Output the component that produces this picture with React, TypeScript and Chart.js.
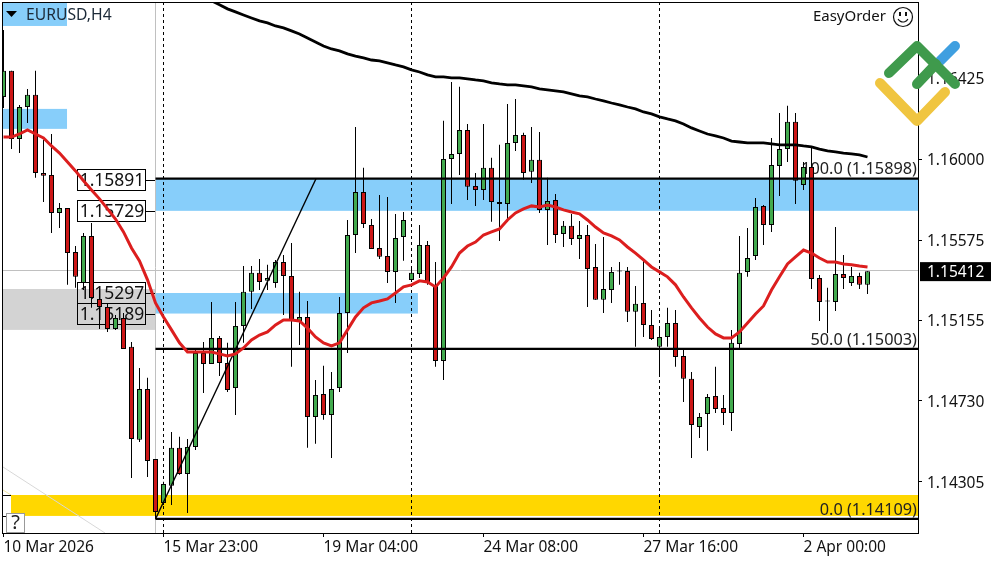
import { useEffect, useRef } from 'react'
import { Chart, registerables } from 'chart.js'
Chart.register(...registerables)

const opens = [1.16328,1.16465,1.16107,1.16275,1.16339,1.15928,1.15918,1.15718,1.15744,1.15512,1.15350,1.15597,1.15266,1.15224,1.15108,1.15166,1.15014,1.14525,1.14792,1.14424,1.14193,1.14283,1.14483,1.14346,1.14488,1.14982,1.14924,1.15061,1.14929,1.14797,1.15124,1.15303,1.15403,1.15361,1.15350,1.15460,1.15387,1.15150,1.15171,1.14645,1.14766,1.14656,1.14797,1.15192,1.15602,1.15828,1.15655,1.15534,1.15492,1.15408,1.15592,1.15366,1.15397,1.15550,1.15340,1.14940,1.16002,1.16028,1.16154,1.15860,1.15839,1.15955,1.15775,1.15765,1.16086,1.16128,1.15934,1.15997,1.15734,1.15786,1.15607,1.15650,1.15581,1.15602,1.15434,1.15261,1.15313,1.15415,1.15413,1.15198,1.15245,1.15129,1.15014,1.15066,1.15139,1.14966,1.14846,1.14593,1.14661,1.14756,1.14692,1.14666,1.15029,1.15408,1.15492,1.15755,1.15655,1.15965,1.16054,1.16197,1.15865,1.15960,1.15376,1.15258,1.15250,1.15397,1.15350,1.15387,1.15340]
const highs = [1.16680,1.16465,1.16286,1.16370,1.16465,1.16102,1.16133,1.15770,1.15744,1.15544,1.15613,1.15665,1.15313,1.15245,1.15182,1.15192,1.15040,1.14903,1.14851,1.14424,1.14304,1.14566,1.14541,1.14530,1.15008,1.15040,1.15250,1.15071,1.15035,1.15250,1.15439,1.15439,1.15476,1.15445,1.15471,1.15497,1.15560,1.15303,1.15255,1.14840,1.14914,1.14882,1.15276,1.15681,1.16170,1.15955,1.15686,1.15812,1.15802,1.15713,1.15723,1.15439,1.15655,1.15571,1.15460,1.16202,1.16407,1.16381,1.16186,1.15928,1.16186,1.16008,1.16076,1.16291,1.16317,1.16139,1.16170,1.16144,1.15903,1.15818,1.15676,1.15713,1.15676,1.15655,1.15555,1.15592,1.15434,1.15460,1.15434,1.15334,1.15471,1.15208,1.15124,1.15219,1.15208,1.14998,1.14882,1.14666,1.14766,1.14909,1.14761,1.15103,1.15597,1.15639,1.15797,1.15760,1.16112,1.16244,1.16281,1.16244,1.15986,1.16065,1.15392,1.15324,1.15644,1.15497,1.15434,1.15403,1.15412]
const lows = [1.16270,1.16054,1.16033,1.16191,1.15903,1.15775,1.15613,1.15639,1.15340,1.15324,1.15313,1.15219,1.15108,1.15092,1.15103,1.15003,1.14325,1.14514,1.14330,1.14109,1.14183,1.14183,1.14341,1.14141,1.14472,1.14771,1.14924,1.14861,1.14777,1.14656,1.15035,1.15213,1.15313,1.15313,1.15324,1.15182,1.14909,1.15024,1.14483,1.14504,1.14630,1.14430,1.14777,1.14982,1.15507,1.15639,1.15529,1.15476,1.15350,1.15245,1.15466,1.15355,1.15376,1.15340,1.14909,1.14840,1.15765,1.15918,1.15786,1.15755,1.15786,1.15671,1.15571,1.15681,1.16044,1.15892,1.15876,1.15718,1.15550,1.15560,1.15539,1.15550,1.15476,1.15224,1.15261,1.15192,1.15245,1.15340,1.15145,1.15014,1.15066,1.15050,1.14861,1.15014,1.14909,1.14724,1.14430,1.14535,1.14467,1.14666,1.14603,1.14572,1.15008,1.15382,1.15471,1.15550,1.15618,1.15807,1.15986,1.15765,1.15839,1.15318,1.15150,1.15087,1.15203,1.15318,1.15334,1.15318,1.15292]
const closes = [1.16465,1.16107,1.16275,1.16339,1.15928,1.15913,1.15718,1.15744,1.15507,1.15382,1.15597,1.15271,1.15224,1.15108,1.15166,1.15003,1.14530,1.14792,1.14414,1.14146,1.14293,1.14483,1.14346,1.14488,1.14982,1.14924,1.15061,1.14929,1.14787,1.15124,1.15303,1.15403,1.15355,1.15376,1.15460,1.15387,1.15150,1.15171,1.14645,1.14761,1.14656,1.14792,1.15192,1.15602,1.15828,1.15660,1.15529,1.15487,1.15408,1.15586,1.15681,1.15403,1.15550,1.15350,1.14940,1.16002,1.16028,1.16154,1.15855,1.15839,1.15955,1.15775,1.15765,1.16086,1.16128,1.15928,1.15997,1.15734,1.15781,1.15602,1.15650,1.15581,1.15602,1.15423,1.15261,1.15318,1.15408,1.15410,1.15198,1.15240,1.15129,1.15055,1.15066,1.15139,1.14961,1.14846,1.14603,1.14645,1.14750,1.14687,1.14666,1.15035,1.15403,1.15481,1.15749,1.15655,1.15970,1.16054,1.16197,1.15887,1.15960,1.15371,1.15250,1.15252,1.15397,1.15376,1.15387,1.15340,1.15412]

// moving averages, one value per bar
const maFast = [1.16117,1.16117,1.16133,1.16154,1.16133,1.16112,1.16070,1.16033,1.15986,1.15939,1.15887,1.15839,1.15792,1.15739,1.15686,1.15618,1.15534,1.15466,1.15366,1.15245,1.15171,1.15103,1.15035,1.14987,1.14987,1.14987,1.14987,1.14977,1.14966,1.14977,1.15008,1.15050,1.15076,1.15092,1.15129,1.15155,1.15155,1.15150,1.15113,1.15066,1.15035,1.15019,1.15035,1.15103,1.15171,1.15219,1.15245,1.15255,1.15266,1.15297,1.15329,1.15340,1.15361,1.15355,1.15329,1.15376,1.15434,1.15507,1.15544,1.15565,1.15602,1.15618,1.15634,1.15681,1.15718,1.15739,1.15755,1.15749,1.15760,1.15749,1.15734,1.15723,1.15713,1.15681,1.15644,1.15613,1.15597,1.15576,1.15539,1.15507,1.15471,1.15434,1.15408,1.15382,1.15340,1.15276,1.15219,1.15166,1.15118,1.15082,1.15061,1.15061,1.15092,1.15139,1.15187,1.15229,1.15313,1.15382,1.15450,1.15487,1.15523,1.15507,1.15481,1.15460,1.15460,1.15450,1.15445,1.15439,1.15434]
const maSlowStart = 26
const maSlow = [1.16833,1.16812,1.16791,1.16775,1.16759,1.16743,1.16728,1.16717,1.16701,1.16691,1.16675,1.16659,1.16638,1.16617,1.16596,1.16580,1.16570,1.16554,1.16543,1.16533,1.16522,1.16517,1.16507,1.16496,1.16486,1.16470,1.16459,1.16444,1.16433,1.16433,1.16428,1.16428,1.16423,1.16417,1.16412,1.16402,1.16396,1.16391,1.16391,1.16386,1.16381,1.16370,1.16365,1.16360,1.16354,1.16344,1.16333,1.16328,1.16317,1.16307,1.16296,1.16286,1.16275,1.16265,1.16249,1.16239,1.16223,1.16212,1.16202,1.16186,1.16165,1.16149,1.16133,1.16123,1.16112,1.16096,1.16091,1.16086,1.16086,1.16086,1.16081,1.16076,1.16076,1.16076,1.16070,1.16065,1.16054,1.16044,1.16039,1.16033,1.16028,1.16023,1.16012]

const priceTicks = [1.16425, 1.16, 1.15575, 1.15155, 1.1473, 1.14305]
const timeTickBars = [0, 20, 40, 60, 80, 100]
const timeTickLabels = ['10 Mar 2026', '15 Mar 23:00', '19 Mar 04:00', '24 Mar 08:00', '27 Mar 16:00', '2 Apr 00:00']
const periodBars = [20, 51, 82]
const lastPrice = 1.15412

const fibLevels = [1.15898, 1.15003, 1.14109]
const fibLabels = ['100.0 (1.15898)', '50.0 (1.15003)', '0.0 (1.14109)']
const fibStartBar = 19
const fibTrendEndBar = 39.06

const boxPrices = [1.15891, 1.15729, 1.15297, 1.15189]

const X_MIN = -0.0625
const X_MAX = 114.3125
const Y_MIN = 1.140352
const Y_MAX = 1.16827

// bar range + price range of the rectangles on the chart
const zoneFrom = [X_MIN, X_MIN, 19, 19, X_MIN, 0.94]
const zoneTo = [7.94, 7.94, X_MAX, 51.8, 19, X_MAX]
const zoneTop = [1.16827, 1.16265, 1.15898, 1.15297, 1.15318, 1.14235]
const zoneBottom = [1.16701, 1.1616, 1.15729, 1.15189, 1.15103, 1.14125]
const zoneColors = ['#87cefa', '#87cefa', '#87cefa', '#87cefa', '#d3d3d3', '#ffd700']

const FONT = '"Noto Sans", sans-serif'
const UP = '#42aa4e'
const DOWN = '#cc1616'

const overlay = {
  id: 'overlay',
  beforeDatasetsDraw(chart: Chart) {
    const { ctx, chartArea: a } = chart
    const x = chart.scales.x, y = chart.scales.y
    ctx.save()
    zoneFrom.forEach((from, i) => {
      const l = x.getPixelForValue(from), r = x.getPixelForValue(zoneTo[i])
      const t = y.getPixelForValue(zoneTop[i]), b = y.getPixelForValue(zoneBottom[i])
      ctx.fillStyle = zoneColors[i]
      ctx.fillRect(l, t, r - l, b - t)
    })

    // last price + crosshair lines
    ctx.strokeStyle = '#c0c0c0'
    ctx.lineWidth = 1
    const py = Math.round(y.getPixelForValue(lastPrice)) - 0.5
    ctx.beginPath()
    ctx.moveTo(a.left, py); ctx.lineTo(a.right, py)
    ctx.moveTo(155.5, a.top); ctx.lineTo(155.5, a.bottom)
    ctx.stroke()

    // faint leftovers in the bottom left corner
    ctx.strokeStyle = '#d8d8d8'
    ctx.beginPath(); ctx.moveTo(3, 467); ctx.lineTo(105, 533); ctx.stroke()
    ctx.strokeStyle = '#f0e6a0'
    ctx.beginPath(); ctx.moveTo(3, 490); ctx.lineTo(11, 495); ctx.stroke()
    ctx.strokeStyle = '#000'
    ctx.beginPath()
    ctx.moveTo(3, 495.5); ctx.lineTo(11, 495.5)
    ctx.moveTo(3, 516.5); ctx.lineTo(7, 516.5)
    ctx.stroke()

    ctx.strokeStyle = '#000'
    ctx.setLineDash([3, 3])
    periodBars.forEach(b => {
      const px = x.getPixelForValue(b)
      ctx.beginPath(); ctx.moveTo(px, a.top); ctx.lineTo(px, a.bottom); ctx.stroke()
    })
    ctx.setLineDash([])

    // price boxes left of the zones
    ctx.font = `17.5px ${FONT}`
    ctx.textAlign = 'center'
    ctx.textBaseline = 'middle'
    ctx.fillStyle = '#111'
    boxPrices.forEach(p => {
      const c = y.getPixelForValue(p)
      ctx.strokeRect(77.5, Math.round(c) - 10.5, 68, 21)
      ctx.beginPath(); ctx.moveTo(146, Math.round(c) + 0.5); ctx.lineTo(155, Math.round(c) + 0.5); ctx.stroke()
      ctx.fillText(p.toFixed(5), 112, c + 1)
    })

    ctx.textAlign = 'right'
    ctx.fillStyle = '#222'
    ctx.font = `16.3px ${FONT}`
    fibLevels.forEach((p, i) => {
      ctx.fillText(fibLabels[i], 917, y.getPixelForValue(p) - 9)
    })

    // symbol caption
    ctx.fillStyle = '#000'
    ctx.beginPath(); ctx.moveTo(6, 11); ctx.lineTo(17, 11); ctx.lineTo(11.5, 17); ctx.closePath(); ctx.fill()
    ctx.font = `15.7px ${FONT}`
    ctx.textAlign = 'left'
    ctx.fillStyle = '#1c2a38'
    ctx.fillText('EURUSD,H4', 26, 15.5)

    ctx.font = `15px ${FONT}`
    ctx.textAlign = 'right'
    ctx.fillStyle = '#111'
    ctx.fillText('EasyOrder', 886, 16.5)
    ctx.restore()
  },
  afterDraw(chart: Chart) {
    const { ctx } = chart
    const y = chart.scales.y
    ctx.save()
    ctx.strokeStyle = '#000'
    ctx.lineWidth = 1
    ctx.strokeRect(2.5, 2.5, 916, 531)

    // last price tag
    const py = y.getPixelForValue(lastPrice)
    ctx.fillStyle = '#000'
    ctx.fillRect(920, py - 9, 71, 19)
    ctx.fillStyle = '#fff'
    ctx.font = `15.5px ${FONT}`
    ctx.textAlign = 'left'
    ctx.textBaseline = 'middle'
    ctx.fillText(lastPrice.toFixed(5), 927, py + 1)

    // smiley
    ctx.strokeStyle = '#111'
    ctx.lineWidth = 1.2
    ctx.beginPath(); ctx.arc(903, 17, 9.5, 0, Math.PI * 2); ctx.stroke()
    ctx.beginPath(); ctx.arc(903, 16.5, 5.5, 0.15 * Math.PI, 0.85 * Math.PI); ctx.stroke()
    ctx.fillStyle = '#111'
    ctx.fillRect(899, 12, 2, 4)
    ctx.fillRect(905, 12, 2, 4)

    // question mark button
    ctx.fillStyle = '#fff'
    ctx.fillRect(6.5, 513.5, 18, 19)
    ctx.strokeStyle = '#999'
    ctx.lineWidth = 1
    ctx.strokeRect(6.5, 513.5, 18, 19)
    ctx.fillStyle = '#222'
    ctx.font = `20px ${FONT}`
    ctx.textAlign = 'center'
    ctx.fillText('?', 15.5, 523.5)

    // logo
    ctx.lineCap = 'round'
    ctx.lineJoin = 'round'
    ctx.lineWidth = 10
    const stroke = (color: string, pts: number[][]) => {
      ctx.strokeStyle = color
      ctx.beginPath()
      pts.forEach((p, i) => (i ? ctx.lineTo(p[0], p[1]) : ctx.moveTo(p[0], p[1])))
      ctx.stroke()
    }
    stroke('#3f9fe0', [[940, 61], [955, 46]])
    stroke('#f0c540', [[880, 83], [917, 121], [945, 92]])
    stroke('#3f9a4c', [[889, 73], [917, 46], [955, 84]])
    stroke('#3f9a4c', [[917, 84], [936, 64]])
    ctx.restore()
  },
}

export default function App() {
  const ref = useRef<HTMLCanvasElement>(null)

  useEffect(() => {
    if (!ref.current) return
    const bars = opens.map((_, i) => i)
    const chart = new Chart(ref.current, {
      type: 'bar',
      data: {
        datasets: [
          { label: 'wick', data: bars.map(i => ({ x: i, y: [lows[i], highs[i]] })), backgroundColor: '#000', barThickness: 1, grouped: false, order: 6, borderWidth: 0, inflateAmount: 0 },
          { label: 'body', data: bars.map(i => ({ x: i, y: [opens[i], closes[i]] })), backgroundColor: bars.map(i => (closes[i] >= opens[i] ? UP : DOWN)), borderColor: '#000', borderWidth: 1, borderSkipped: false, barThickness: 5, grouped: false, order: 5, inflateAmount: 0 },
          ...fibLevels.map(p => ({ type: 'line', label: 'fib', data: [{ x: fibStartBar, y: p }, { x: X_MAX, y: p }], borderColor: '#000', borderWidth: 2.2, pointRadius: 0, order: 4 })),
          { type: 'line', label: 'fib trend', data: [{ x: fibStartBar, y: fibLevels[2] }, { x: fibTrendEndBar, y: fibLevels[0] }], borderColor: '#000', borderWidth: 1.4, pointRadius: 0, order: 3 },
          { type: 'line', label: 'slow', data: maSlow.map((v, i) => ({ x: i + maSlowStart, y: v })), borderColor: '#000', borderWidth: 2.8, pointRadius: 0, order: 2 },
          { type: 'line', label: 'fast', data: maFast.map((v, i) => ({ x: i, y: v })), borderColor: '#dc1e1e', borderWidth: 3, pointRadius: 0, order: 1 },
        ] as any,
      },
      options: {
        animation: false,
        responsive: false,
        devicePixelRatio: 1,
        events: [],
        layout: { padding: { left: 3, top: 2, right: 0, bottom: 0 }, autoPadding: false },
        plugins: { legend: { display: false }, tooltip: { enabled: false } },
        scales: {
          x: {
            type: 'linear',
            offset: false,
            bounds: 'data',
            min: X_MIN,
            max: X_MAX,
            afterFit: (s: any) => { s.height = 29; s.paddingLeft = 0; s.paddingRight = 0 },
            afterBuildTicks: (s: any) => { s.min = X_MIN; s.max = X_MAX; s.ticks = timeTickBars.map(value => ({ value })) },
            grid: { offset: false, drawOnChartArea: false, drawTicks: true, tickLength: 4, color: '#000' },
            border: { display: false },
            ticks: {
              autoSkip: false, maxRotation: 0, align: 'start', padding: 1,
              color: '#111', font: { family: FONT, size: 15.5 },
              callback: (v: any) => timeTickLabels[timeTickBars.indexOf(Number(v))],
            },
          },
          y: {
            type: 'linear',
            position: 'right',
            bounds: 'data',
            min: Y_MIN,
            max: Y_MAX,
            afterFit: (s: any) => { s.width = 82; s.paddingTop = 0; s.paddingBottom = 0 },
            afterBuildTicks: (s: any) => { s.min = Y_MIN; s.max = Y_MAX; s.ticks = priceTicks.map(value => ({ value })) },
            grid: { drawOnChartArea: false, drawTicks: true, tickLength: 4, color: '#000' },
            border: { display: false },
            ticks: {
              autoSkip: false, padding: 5, labelOffset: 1.5, color: '#111', font: { family: FONT, size: 15.5 },
              callback: (v: any) => Number(v).toFixed(5),
            },
          },
        },
      } as any,
      plugins: [overlay],
    })
    return () => { chart.destroy() }
  }, [])

  return (
    <div style={{ position: 'absolute', left: 0, top: 0, width: 1000, height: 562, background: '#fff' }}>
      <canvas ref={ref} width={1000} height={562} style={{ display: 'block' }} />
    </div>
  )
}
